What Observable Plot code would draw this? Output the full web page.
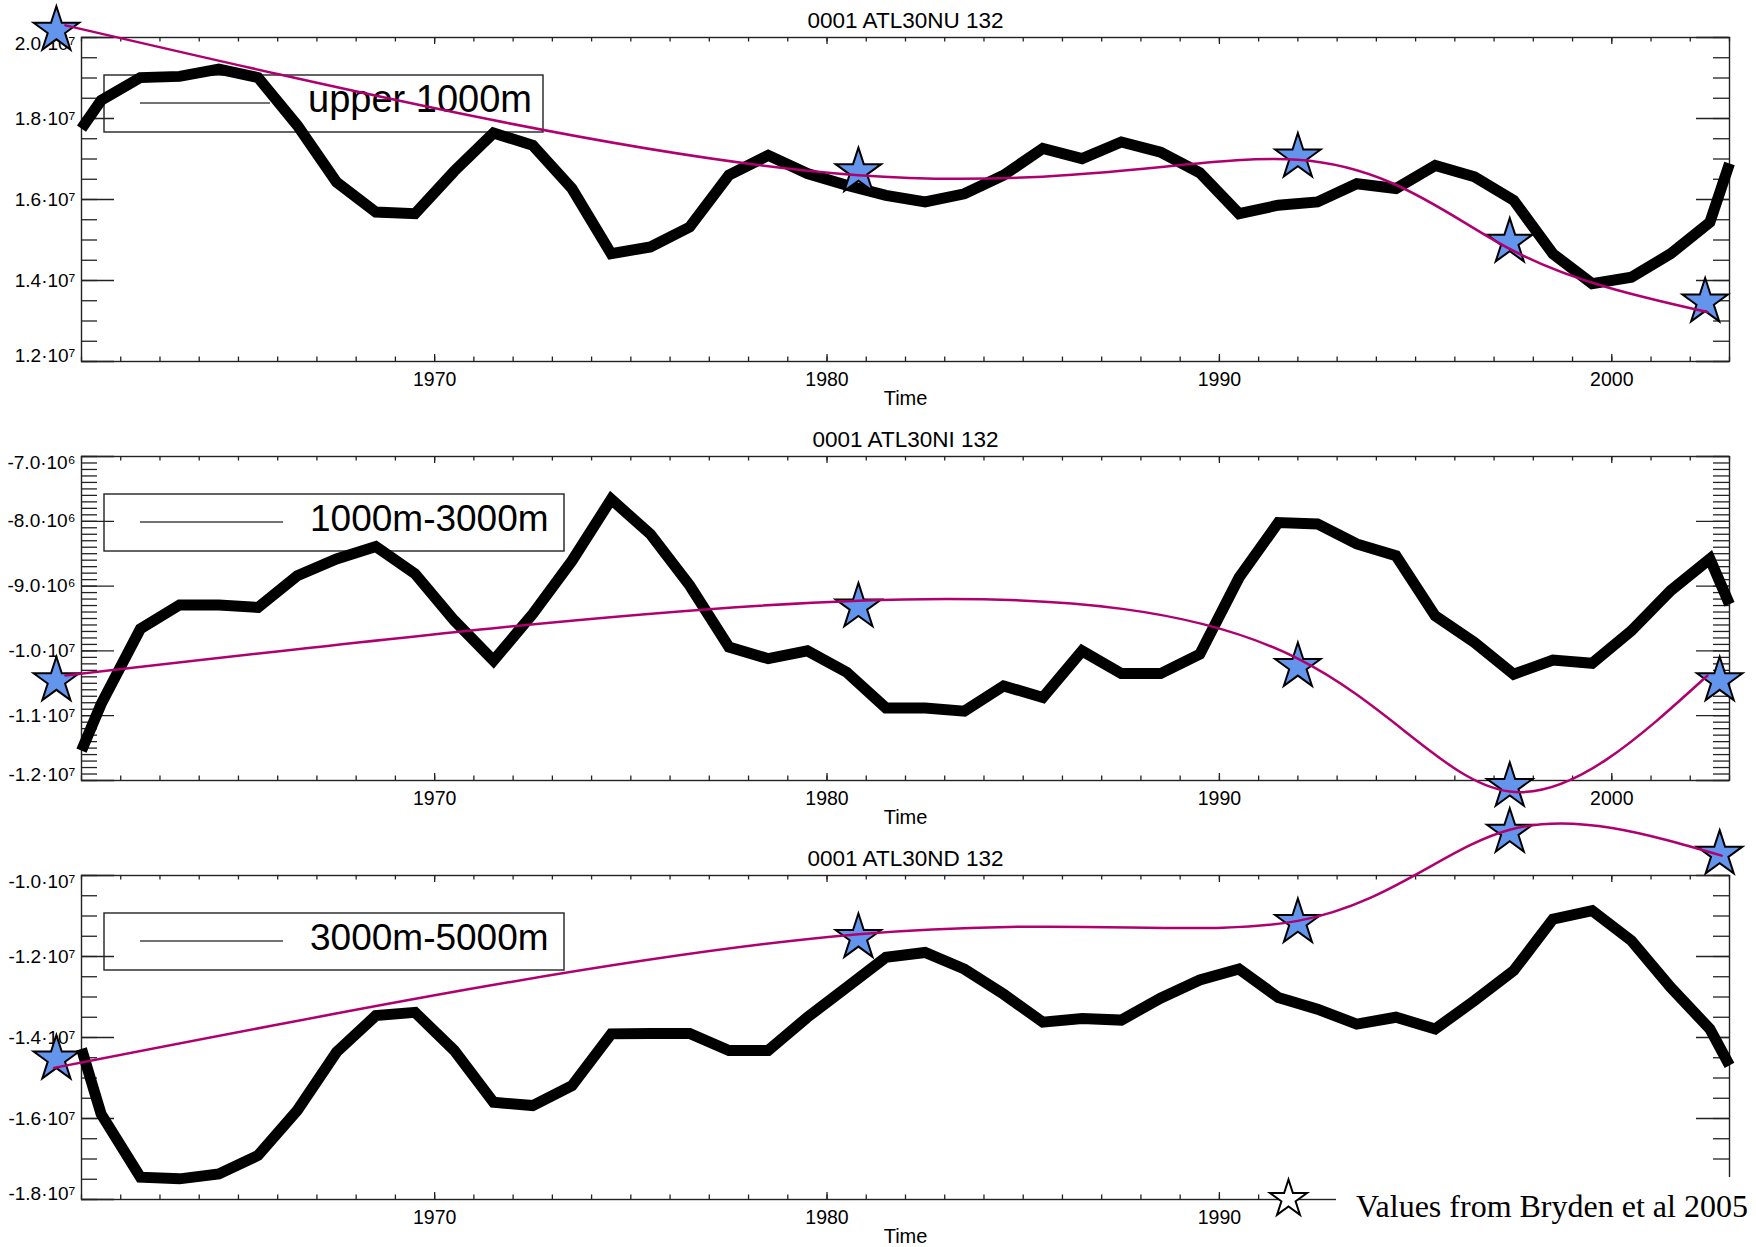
<!DOCTYPE html>
<html>
<head>
<meta charset="utf-8">
<script src="https://cdn.jsdelivr.net/npm/d3@7"></script>
<script src="https://cdn.jsdelivr.net/npm/@observablehq/plot@0.6"></script>
<style>
  html, body { margin: 0; padding: 0; background: white; }
  #root { position: relative; width: 1756px; height: 1247px; background: white; overflow: hidden; }
  .abs { position: absolute; left: 0; }
</style>
</head>
<body>
<div id="root">
  <svg id="legendLayer" class="abs" style="top:0" width="1756" height="1247"></svg>
  <div id="p1" class="abs" style="top:0"></div>
  <div id="p2" class="abs" style="top:419px"></div>
  <div id="p3" class="abs" style="top:838px"></div>
  <svg id="keyLayer" class="abs" style="top:0" width="1756" height="1247"></svg>
</div>
<script>
// ---------------- DATA ----------------
// model years: edge of frame, mid-year annual values, edge of frame
const modelYears = [1961, ...d3.range(1961.5, 2003, 1), 2003];

// upper 1000m (units of 1e7)
const upperValues = [1.775, 1.845, 1.901, 1.904, 1.922, 1.901, 1.783, 1.643, 1.569, 1.565,
  1.670, 1.764, 1.734, 1.627, 1.466, 1.483, 1.532, 1.660, 1.709, 1.664,
  1.635, 1.610, 1.594, 1.614, 1.660, 1.726, 1.701, 1.742, 1.717, 1.666,
  1.565, 1.586, 1.594, 1.639, 1.627, 1.684, 1.656, 1.598, 1.466, 1.392,
  1.408, 1.466, 1.544, 1.689];

// 1000m-3000m (units of 1e6)
const interValues = [-11.54, -10.82, -9.66, -9.29, -9.29, -9.33, -8.84, -8.58, -8.39, -8.81,
  -9.53, -10.15, -9.43, -8.61, -7.66, -8.20, -8.99, -9.94, -10.12, -10.00,
  -10.33, -10.88, -10.88, -10.93, -10.54, -10.72, -10.00, -10.35, -10.35, -10.05,
  -8.87, -8.02, -8.04, -8.35, -8.53, -9.46, -9.87, -10.36, -10.14, -10.19,
  -9.69, -9.07, -8.58, -9.28];

// 3000m-5000m (units of 1e7)
const deepValues = [-1.428, -1.589, -1.745, -1.749, -1.737, -1.691, -1.580, -1.436, -1.346, -1.338,
  -1.432, -1.560, -1.568, -1.519, -1.391, -1.390, -1.390, -1.432, -1.432, -1.350,
  -1.276, -1.202, -1.190, -1.231, -1.293, -1.362, -1.353, -1.357, -1.303, -1.258,
  -1.231, -1.301, -1.330, -1.367, -1.350, -1.379, -1.309, -1.235, -1.108, -1.087,
  -1.161, -1.276, -1.379, -1.469];

// Bryden et al 2005 values: star glyph positions
const starYearsUpper = [1960.36, 1980.8, 1992.0, 1997.4, 2002.38];
const starYearsLower = [1960.36, 1980.8, 1992.0, 1997.4, 2002.75];
const starUpper = [2.018, 1.669, 1.705, 1.495, 1.347];
const starInter = [-10.46, -9.32, -10.24, -12.09, -10.46];
const starDeep = [-1.453, -1.153, -1.116, -0.893, -0.947];

// Bryden et al 2005 values: knots of the magenta spline
const knotYearsUpper = [1960.59, 1980.8, 1992.0, 1997.4, 2002.44];
const knotYearsInter = [1960.59, 1980.8, 1992.0, 1997.4, 2002.44];
const knotYearsDeep = [1960.3, 1980.8, 1992.0, 1997.4, 2002.8];
const knotUpper = [2.030, 1.660, 1.698, 1.478, 1.322];
const knotInter = [-10.38, -9.225, -10.12, -12.17, -10.38];
const knotDeep = [-1.475, -1.145, -1.112, -0.887, -0.951];

// axis ticks
const xMajor = [1970, 1980, 1990, 2000];
const xLabels = ["1970", "1980", "1990", "2000"];
const xMinor = d3.range(1961, 2004, 1);

const upperTicks = [1.2, 1.4, 1.6, 1.8, 2.0];
const upperTickLabels = ["1.2·10⁷", "1.4·10⁷", "1.6·10⁷", "1.8·10⁷", "2.0·10⁷"];
const upperMinor = d3.range(1.2, 2.001, 0.05);

const interTicks = [-12, -11, -10, -9, -8, -7];
const interTickLabels = ["-1.2·10⁷", "-1.1·10⁷", "-1.0·10⁷", "-9.0·10⁶", "-8.0·10⁶", "-7.0·10⁶"];
const interMinor = d3.range(-12, -6.999, 0.1);

const deepTicks = [-1.8, -1.6, -1.4, -1.2, -1.0];
const deepTickLabels = ["-1.8·10⁷", "-1.6·10⁷", "-1.4·10⁷", "-1.2·10⁷", "-1.0·10⁷"];
const deepMinor = d3.range(-1.8, -0.999, 0.05);

const titles = ["0001 ATL30NU 132", "0001 ATL30NI 132", "0001 ATL30ND 132"];
const legendLabels = ["upper 1000m", "1000m-3000m", "3000m-5000m"];
const keyLabel = "Values from Bryden et al 2005";

// ---------------- STYLE ----------------
const FONT = "'Liberation Sans', Arial, Helvetica, sans-serif";
const MAGENTA = "#B0006E";
const STARFILL = "#6495ED";
const AXIS = "#222";

// ---------------- PANELS ----------------
const W = 1756, H = 421, mL = 81, mR = 27, mT = 37, mB = 60;
const pw = W - mL - mR, ph = H - mT - mB;

function panel({title, values, starYears, starValues, knotYears, knotValues, yDomain, yMajor, yLabels, yMinor, hiddenXLabels = []}) {
  const model = modelYears.map((x, i) => ({x, y: values[i]}));
  const stars = starYears.map((x, i) => ({x, y: starValues[i]}));
  const knots = knotYears.map((x, i) => ({x, y: knotValues[i]}));
  const labelData = yMajor.map((v, i) => ({v, label: yLabels[i], pos: i === 0 ? "bottom" : i === yMajor.length - 1 ? "top" : "mid"}));
  const xLabelData = xMajor.map((v, i) => ({v, label: xLabels[i]})).filter(d => !hiddenXLabels.includes(d.label));
  const tickOpts = {stroke: AXIS, strokeWidth: 1.3};
  const yText = {y: "v", text: "label", frameAnchor: "left", textAnchor: "end", lineAnchor: "middle", dx: -6, fontSize: 19, fill: "black"};
  return Plot.plot({
    width: W, height: H,
    marginLeft: mL, marginRight: mR, marginTop: mT, marginBottom: mB,
    style: {background: "transparent", overflow: "visible", fontFamily: FONT, color: "black"},
    x: {domain: [1961, 2003], axis: null},
    y: {domain: yDomain, axis: null},
    marks: [
      Plot.frame({stroke: AXIS, strokeWidth: 1.4}),
      Plot.tickY(yMinor, {y: d => d, ...tickOpts, insetRight: pw - 16}),
      Plot.tickY(yMinor, {y: d => d, ...tickOpts, insetLeft: pw - 16}),
      Plot.tickY(yMajor, {y: d => d, ...tickOpts, insetRight: pw - 33}),
      Plot.tickY(yMajor, {y: d => d, ...tickOpts, insetLeft: pw - 33}),
      Plot.tickX(xMinor, {x: d => d, ...tickOpts, insetTop: ph - 4.5}),
      Plot.tickX(xMinor, {x: d => d, ...tickOpts, insetBottom: ph - 4.5}),
      Plot.tickX(xMajor, {x: d => d, ...tickOpts, insetTop: ph - 7}),
      Plot.tickX(xMajor, {x: d => d, ...tickOpts, insetBottom: ph - 7}),
      Plot.text(labelData.filter(d => d.pos === "mid"), yText),
      Plot.text(labelData.filter(d => d.pos === "top"), {...yText, dy: 6}),
      Plot.text(labelData.filter(d => d.pos === "bottom"), {...yText, dy: -6}),
      Plot.text(xLabelData, {x: "v", text: "label", frameAnchor: "bottom", lineAnchor: "middle", dy: 18, fontSize: 19.5, fill: "black"}),
      Plot.text(["Time"], {frameAnchor: "bottom", lineAnchor: "middle", dy: 37, fontSize: 20, fill: "black"}),
      Plot.text([title], {frameAnchor: "top", lineAnchor: "middle", dy: -17, fontSize: 22.5, fill: "black"}),
      Plot.line(model, {x: "x", y: "y", stroke: "black", strokeWidth: 11,
        strokeLinejoin: "miter", strokeMiterlimit: 4, strokeLinecap: "butt"}),
      Plot.dot(stars, {x: "x", y: "y", symbol: "star", r: 14.3, fill: STARFILL, stroke: "black", strokeWidth: 2}),
      Plot.line(knots, {x: "x", y: "y", curve: "natural", stroke: MAGENTA, strokeWidth: 2.5})
    ]
  });
}

document.getElementById("p1").append(panel({
  title: titles[0], values: upperValues,
  starYears: starYearsUpper, starValues: starUpper, knotYears: knotYearsUpper, knotValues: knotUpper,
  yDomain: [1.2, 2.0], yMajor: upperTicks, yLabels: upperTickLabels, yMinor: upperMinor
}));
document.getElementById("p2").append(panel({
  title: titles[1], values: interValues,
  starYears: starYearsLower, starValues: starInter, knotYears: knotYearsInter, knotValues: knotInter,
  yDomain: [-12, -7], yMajor: interTicks, yLabels: interTickLabels, yMinor: interMinor
}));
document.getElementById("p3").append(panel({
  title: titles[2], values: deepValues,
  starYears: starYearsLower, starValues: starDeep, knotYears: knotYearsDeep, knotValues: knotDeep,
  yDomain: [-1.8, -1.0], yMajor: deepTicks, yLabels: deepTickLabels, yMinor: deepMinor,
  hiddenXLabels: ["2000"]
}));

// ---------------- LEGENDS ----------------
const frameTops = [37, 456, 875];
const boxRight = [543, 564, 564];
const lineRight = [270, 283, 283];
const textLeft = [308, 310, 310];
const leg = d3.select("#legendLayer");
frameTops.forEach((t, i) => {
  leg.append("rect").attr("x", 104).attr("y", t + 38).attr("width", boxRight[i] - 104).attr("height", 57)
    .attr("fill", "none").attr("stroke", "#222").attr("stroke-width", 1.4);
  leg.append("line").attr("x1", 140).attr("x2", lineRight[i]).attr("y1", t + 66).attr("y2", t + 66)
    .attr("stroke", "#444").attr("stroke-width", 1.5);
  leg.append("text").attr("x", textLeft[i]).attr("y", t + 75).text(legendLabels[i])
    .attr("font-family", FONT).attr("font-size", i === 0 ? 38 : 37).attr("fill", "black");
});

const key = d3.select("#keyLayer");
key.append("rect").attr("x", 1336).attr("y", 1177).attr("width", 420).attr("height", 70).attr("fill", "white");
key.append("path").attr("transform", "translate(1288.5,1199)")
  .attr("d", d3.symbol(d3.symbolStar, 19.5 * 19.5 / 0.8908130915)())
  .attr("fill", "white").attr("stroke", "black").attr("stroke-width", 2);
key.append("text").attr("x", 1356).attr("y", 1216.5).text(keyLabel)
  .attr("font-family", "'Liberation Serif', 'Times New Roman', serif").attr("font-size", 32).attr("fill", "black");
</script>
</body>
</html>
